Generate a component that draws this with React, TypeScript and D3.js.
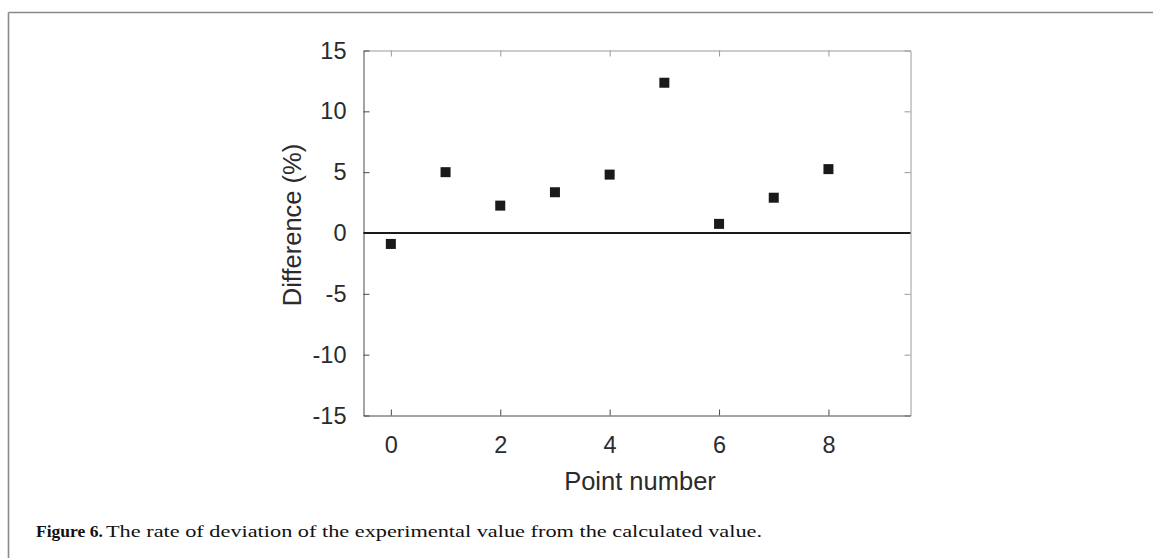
import { axisBottom, axisLeft, axisRight, axisTop, scaleLinear, select } from "d3";
import React, { useEffect, useRef } from "react";

// point number on x, difference in % on y
const pointNumbers = [0, 1, 2, 3, 4, 5, 6, 7, 8];
const differences = [-0.9, 5.0, 2.25, 3.35, 4.8, 12.35, 0.75, 2.9, 5.25];
const xTicks = [0, 2, 4, 6, 8];
const yTicks = [-15, -10, -5, 0, 5, 10, 15];

const WIDTH = 1153;
const HEIGHT = 558;

function ScatterChart() {
  const svgRef = useRef<SVGSVGElement>(null);

  useEffect(() => {
    const svg = select(svgRef.current);
    const left = 363.5;
    const right = 910.5;
    const top = 50.5;
    const bottom = 415.5;

    const xScale = scaleLinear().domain([-0.5, 9.5]).range([left, right]);
    const yScale = scaleLinear().domain([-15, 15]).range([bottom, top]);

    const font = "'Liberation Sans', Arial, sans-serif";
    const plain = (d: any) => String(d); // plain hyphen, not unicode minus

    // top + right frame, light grey, ticks pointing in
    svg
      .select<SVGGElement>(".x-top")
      .attr("transform", `translate(0, ${top})`)
      .call(axisTop(xScale).tickValues(xTicks).tickSizeInner(-6).tickSizeOuter(0).tickFormat(() => ""));
    svg
      .select<SVGGElement>(".y-right")
      .attr("transform", `translate(${right}, 0)`)
      .call(axisRight(yScale).tickValues(yTicks).tickSizeInner(-6).tickSizeOuter(0).tickFormat(() => ""));
    svg.selectAll(".x-top path, .x-top line, .y-right path, .y-right line").attr("stroke", "#9a9a9a");

    // bottom + left axes with labels
    svg
      .select<SVGGElement>(".x-axis")
      .attr("transform", `translate(0, ${bottom})`)
      .call(axisBottom(xScale).tickValues(xTicks).tickSizeInner(-6).tickSizeOuter(0).tickPadding(21).tickFormat(plain));
    svg
      .select<SVGGElement>(".y-axis")
      .attr("transform", `translate(${left}, 0)`)
      .call(axisLeft(yScale).tickValues(yTicks).tickSizeInner(-6).tickSizeOuter(0).tickPadding(17).tickFormat(plain));
    svg.selectAll(".x-axis path, .x-axis line, .y-axis path, .y-axis line").attr("stroke", "#4a4a4a");
    svg
      .selectAll(".x-axis text, .y-axis text")
      .attr("font-family", font)
      .attr("font-size", 23.5)
      .attr("fill", "#2b2b2b");

    // zero line
    svg
      .select(".zero")
      .attr("x1", left)
      .attr("x2", right)
      .attr("y1", yScale(0))
      .attr("y2", yScale(0))
      .attr("stroke", "#1a1a1a")
      .attr("stroke-width", 2);

    const size = 10;
    svg
      .select(".points")
      .selectAll("rect")
      .data(pointNumbers)
      .join("rect")
      .attr("x", (d) => xScale(d) - size / 2)
      .attr("y", (d, i) => yScale(differences[i]) - size / 2)
      .attr("width", size)
      .attr("height", size)
      .attr("fill", "#1a1a1a");

    svg
      .select(".x-title")
      .attr("x", (left + right) / 2 + 3)
      .attr("y", 490)
      .attr("text-anchor", "middle")
      .attr("font-family", font)
      .attr("font-size", 25.5)
      .attr("fill", "#2b2b2b")
      .text("Point number");

    svg
      .select(".y-title")
      .attr("transform", `translate(301, ${(top + bottom) / 2 - 8}) rotate(-90)`)
      .attr("text-anchor", "middle")
      .attr("font-family", font)
      .attr("font-size", 25.5)
      .attr("fill", "#2b2b2b")
      .text("Difference (%)");
  }, []);

  const serif = "'Liberation Serif', 'Times New Roman', serif";

  return (
    <svg
      ref={svgRef}
      width={WIDTH}
      height={HEIGHT}
      style={{ position: "absolute", left: 0, top: 0, background: "#fff" }}
    >
      {/* journal figure frame, top and left only */}
      <line x1={8.5} x2={WIDTH} y1={12.5} y2={12.5} stroke="#8a8a8a" strokeWidth={1.6} />
      <line x1={8.5} x2={8.5} y1={12.5} y2={HEIGHT} stroke="#8a8a8a" strokeWidth={1.6} />
      <g className="x-top" />
      <g className="y-right" />
      <g className="x-axis" />
      <g className="y-axis" />
      <line className="zero" />
      <g className="points" />
      <text className="x-title" />
      <text className="y-title" />
      <text x={36} y={537} fontFamily={serif} fontSize={17.5} fontWeight="bold" fill="#111">
        Figure 6.
      </text>
      <text
        x={106}
        y={537}
        fontFamily={serif}
        fontSize={17.5}
        fill="#111"
        textLength={656}
        lengthAdjust="spacingAndGlyphs"
      >
        The rate of deviation of the experimental value from the calculated value.
      </text>
    </svg>
  );
}

export default function App() {
  return <ScatterChart />;
}
